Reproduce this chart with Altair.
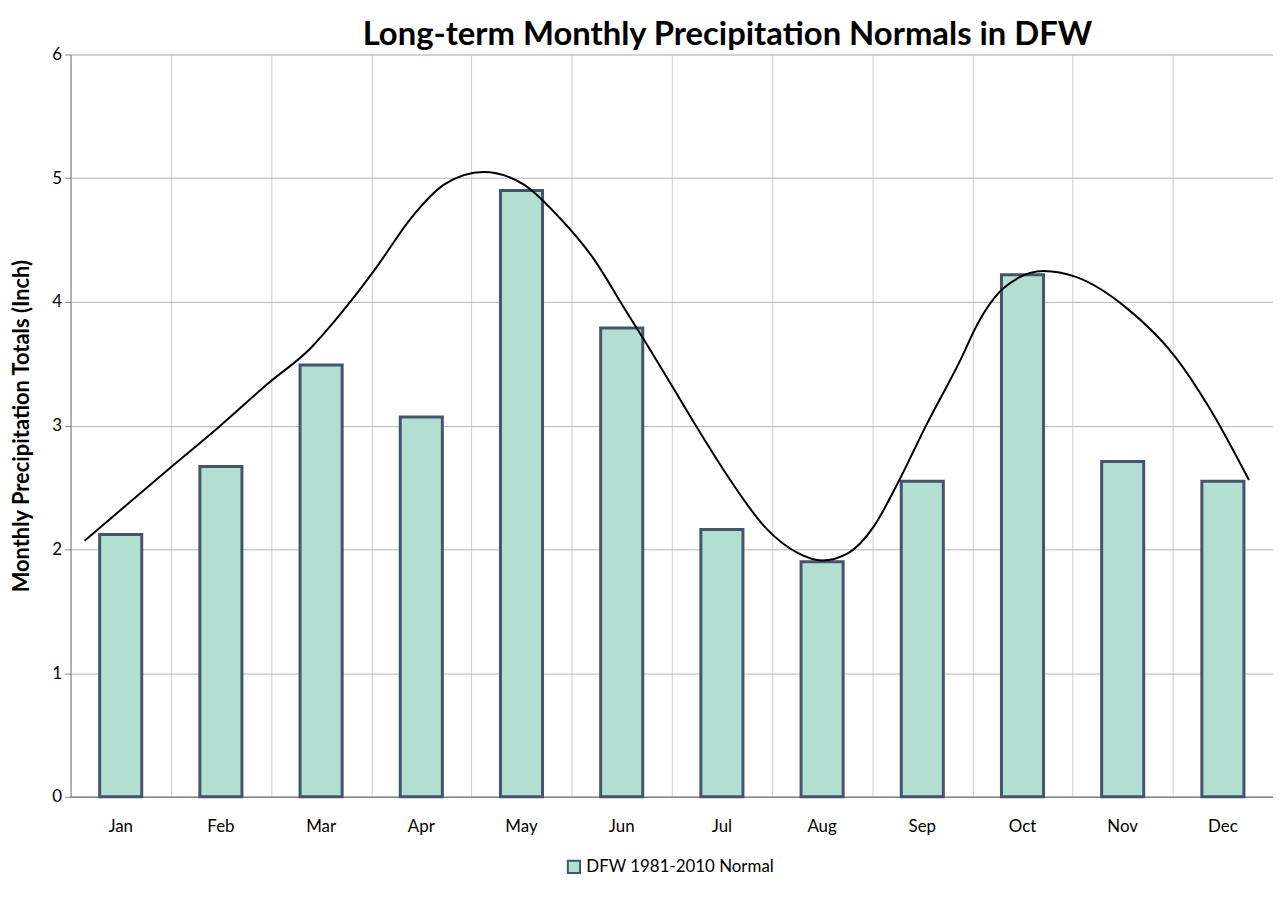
import altair as alt
import pandas as pd

months = ["Jan", "Feb", "Mar", "Apr", "May", "Jun", "Jul", "Aug", "Sep", "Oct", "Nov", "Dec"]
normals = [2.12, 2.67, 3.49, 3.07, 4.90, 3.79, 2.16, 1.90, 2.55, 4.22, 2.71, 2.55]
series_name = "DFW 1981-2010 Normal"

# smoothed trend curve (x in month-band units, 0 = left edge of Jan band)
curve_x = [0.14, 0.98, 1.48, 1.97, 2.40, 2.64, 2.80, 3.07, 3.40, 3.73, 4.12, 4.52, 4.88,
           5.21, 5.54, 5.71, 6.01, 6.27, 6.60, 6.93, 7.26, 7.50, 7.76, 8.02, 8.22, 8.55,
           8.88, 9.05, 9.31, 9.71, 10.04, 10.54, 11.03, 11.36, 11.76]
curve_y = [2.07, 2.65, 2.99, 3.34, 3.63, 3.85, 4.01, 4.30, 4.68, 4.95, 5.05, 4.95, 4.68,
           4.36, 3.93, 3.71, 3.31, 2.96, 2.54, 2.18, 1.97, 1.91, 1.97, 2.19, 2.48, 3.02,
           3.53, 3.82, 4.11, 4.25, 4.20, 3.95, 3.55, 3.15, 2.56]

y_ticks = [0, 1, 2, 3, 4, 5, 6]
grid_x = list(range(13))

bars_df = pd.DataFrame({"month": months, "value": normals, "series": [series_name] * 12})
curve_df = pd.DataFrame({"x": curve_x, "y": curve_y})

FONT = "Lato"
W, H = 1210, 747
Y_TITLE = "Monthly Precipitation Totals (Inch)"

y_scale = alt.Scale(domain=[0, 6])
y_axis = alt.Axis(title=Y_TITLE, values=y_ticks, format="d", labelFont=FONT, labelFontSize=17,
                  labelColor="#000000", labelPadding=3, tickSize=6, tickColor="#868686",
                  domainColor="#868686", grid=True, gridColor="#b4b4b4",
                  titleFont=FONT, titleFontSize=22, titleFontWeight="bold",
                  titleColor="#000000", titlePadding=19)

bars = alt.Chart(bars_df).mark_bar(
    stroke="#44546a", strokeWidth=3, fill="#b3ded2"
).encode(
    x=alt.X("month:N", sort=months,
            scale=alt.Scale(paddingInner=0.58, paddingOuter=0.29),
            axis=alt.Axis(title=None, orient="bottom", labelAngle=0, labelFont=FONT,
                          labelFontSize=17, labelColor="#000000", labelPadding=22, ticks=False,
                          domainColor="#868686", domainWidth=1.5, grid=False)),
    y=alt.Y("value:Q", scale=y_scale, axis=y_axis),
    color=alt.Color("series:N",
                    scale=alt.Scale(domain=[series_name], range=["#b3ded2"]),
                    legend=alt.Legend(title=None, orient="none", legendX=498, legendY=809,
                                      symbolType="square", symbolSize=150,
                                      symbolStrokeColor="#44546a", symbolStrokeWidth=2,
                                      labelLimit=400,
                                      labelFont=FONT, labelFontSize=17, labelColor="#000000")),
)

line = alt.Chart(curve_df).mark_line(
    color="#000000", strokeWidth=2, interpolate="monotone"
).encode(
    x=alt.X("x:Q", scale=alt.Scale(domain=[0, 12], nice=False),
            axis=alt.Axis(title=None, orient="top", values=grid_x, labels=False, ticks=False,
                          domain=False, grid=True, gridColor="#cfcfcf")),
    y=alt.Y("y:Q", scale=y_scale, axis=y_axis),
)

chart = alt.layer(bars, line).resolve_scale(x="independent").properties(
    width=W, height=H,
    autosize=alt.AutoSizeParams(type="none"),
    padding={"left": 63, "top": 44, "right": 0, "bottom": 90},
    title=alt.TitleParams("Long-term Monthly Precipitation Normals in DFW",
                          font=FONT, fontSize=33, fontWeight="bold", color="#000000",
                          anchor="middle", dx=56, dy=12, offset=6),
).configure_view(stroke=None).configure(background="#ffffff")

chart.save("out.html", embed_options={"renderer": "svg", "actions": False})
